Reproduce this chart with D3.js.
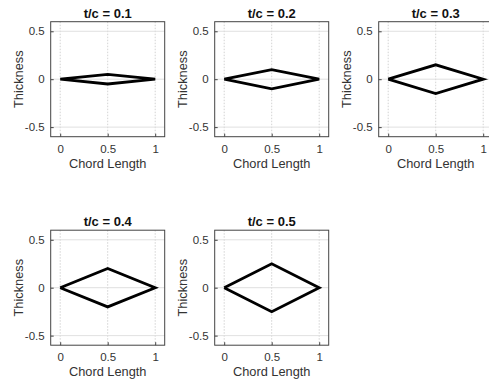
<!DOCTYPE html>
<html>
<head>
<meta charset="utf-8">
<script src="https://cdn.jsdelivr.net/npm/d3@7"></script>
<style>
  body { margin: 0; background: #fff; }
  svg { display: block; font-family: "Liberation Sans", Arial, sans-serif; }
</style>
</head>
<body>
<div id="chart"></div>
<script>
// thickness-to-chord ratios, one per subplot
var ratios = [0.1, 0.2, 0.3, 0.4, 0.5];
// diamond half thickness at mid chord (t/2)
var halfThick = [0.05, 0.1, 0.15, 0.2, 0.25];
// chord stations of the diamond outline
var chordPts = [0, 0.5, 1, 0.5, 0];
var sidePts = [0, 1, 0, -1, 0];   // upper / lower surface
var xTicks = [0, 0.5, 1];
var yTicks = [-0.5, 0, 0.5];

var W = 489, H = 380;
var pw = 114, ph = 115;
var left0 = 50.7, top0 = 21.7, dx = 164, dy = 208.5;

var svg = d3.select("#chart").append("svg")
	.attr("width", W)
	.attr("height", H);

var x = d3.scaleLinear().domain([-0.1, 1.1]).range([0, pw]);
var y = d3.scaleLinear().domain([-0.6, 0.6]).range([ph, 0]);

var fmt = function(d) { return d === 0 ? "0" : String(d); };

ratios.forEach(function(r, i) {
	var col = i % 3, row = Math.floor(i / 3);
	var g = svg.append("g")
		.attr("transform", "translate(" + (left0 + dx * col) + "," + (top0 + dy * row) + ")");

	// grid
	g.selectAll(".vg").data(xTicks).enter().append("line")
		.attr("x1", function(d) { return x(d); }).attr("x2", function(d) { return x(d); })
		.attr("y1", 0).attr("y2", ph)
		.attr("stroke", "#c8c8c8").attr("stroke-width", 0.8)
		.attr("stroke-dasharray", "1.5,1.5");
	g.selectAll(".hg").data(yTicks).enter().append("line")
		.attr("y1", function(d) { return y(d); }).attr("y2", function(d) { return y(d); })
		.attr("x1", 0).attr("x2", pw)
		.attr("stroke", "#dcdcdc").attr("stroke-width", 0.9);

	// diamond
	var pts = chordPts.map(function(c, k) { return [x(c), y(sidePts[k] * halfThick[i])]; });
	g.append("path")
		.attr("d", d3.line()(pts))
		.attr("fill", "none")
		.attr("stroke", "#000")
		.attr("stroke-width", 2.8)
		.attr("stroke-linejoin", "miter");

	// axes
	var ax = g.append("g").attr("transform", "translate(0," + ph + ")")
		.call(d3.axisBottom(x).tickValues(xTicks).tickFormat(fmt).tickSize(-3).tickPadding(8));
	var ay = g.append("g")
		.call(d3.axisLeft(y).tickValues(yTicks).tickFormat(fmt).tickSize(-3).tickPadding(6));
	[ax, ay].forEach(function(a) {
		a.select(".domain").remove();
		a.selectAll("line").attr("stroke", "#444");
		a.selectAll("text").attr("fill", "#333").style("font-size", "11.5px")
			.style("font-family", "'Liberation Sans', Arial, sans-serif");
	});

	// box
	g.append("rect")
		.attr("width", pw).attr("height", ph)
		.attr("fill", "none").attr("stroke", "#444").attr("stroke-width", 1);

	// title
	g.append("text")
		.attr("x", pw / 2).attr("y", -4)
		.attr("text-anchor", "middle")
		.style("font-size", "13px").style("font-weight", "bold")
		.attr("fill", "#111")
		.text("t/c = " + r);

	// labels
	g.append("text")
		.attr("x", pw / 2).attr("y", ph + 31)
		.attr("text-anchor", "middle")
		.style("font-size", "12.8px")
		.attr("fill", "#333")
		.text("Chord Length");
	g.append("text")
		.attr("transform", "translate(-28," + y(0) + ") rotate(-90)")
		.attr("text-anchor", "middle")
		.style("font-size", "12.8px")
		.attr("fill", "#333")
		.text("Thickness");
});
</script>
</body>
</html>
